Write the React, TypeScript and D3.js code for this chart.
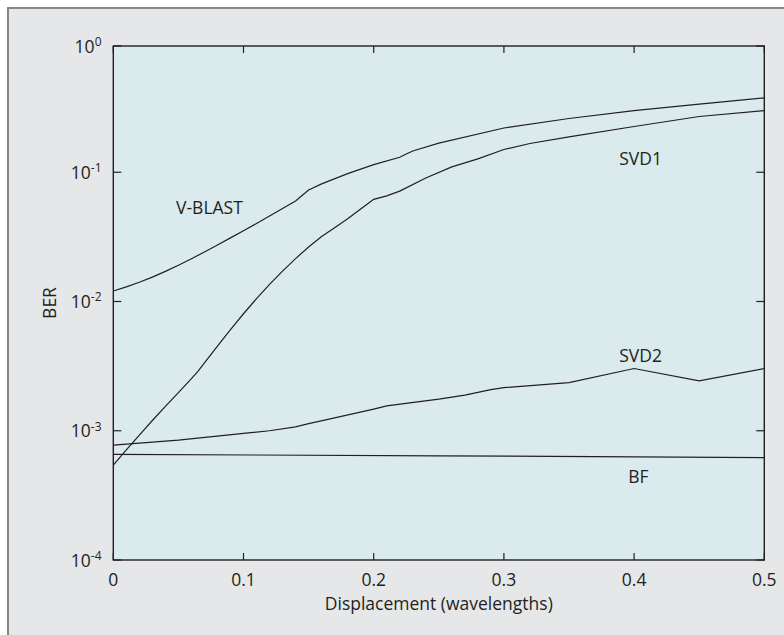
import React from "react";
import * as d3 from "d3";

const xVblast = [0, 0.01, 0.02, 0.03, 0.04, 0.05, 0.06, 0.07, 0.08, 0.09, 0.1, 0.11, 0.12, 0.13, 0.14, 0.145, 0.15, 0.16, 0.18, 0.2, 0.22, 0.225, 0.23, 0.25, 0.3, 0.35, 0.4, 0.45, 0.5];
const yVblast = [0.01205, 0.01297, 0.01409, 0.01545, 0.0171, 0.0191, 0.02143, 0.02415, 0.02735, 0.03105, 0.03532, 0.04018, 0.04581, 0.05236, 0.05998, 0.066, 0.0729, 0.0813, 0.0975, 0.1146, 0.1306, 0.1384, 0.146, 0.168, 0.22, 0.2606, 0.3, 0.3365, 0.3767];

const xSvd1 = [0, 0.01, 0.02, 0.03, 0.04, 0.05, 0.06, 0.065, 0.07, 0.08, 0.09, 0.1, 0.11, 0.12, 0.13, 0.14, 0.15, 0.16, 0.17, 0.18, 0.19, 0.2, 0.21, 0.22, 0.24, 0.26, 0.28, 0.3, 0.32, 0.35, 0.4, 0.45, 0.5];
const ySvd1 = [0.000542, 0.00071, 0.000925, 0.0012, 0.001545, 0.00197, 0.00253, 0.00288, 0.00335, 0.00452, 0.00605, 0.00804, 0.01052, 0.01355, 0.01718, 0.02148, 0.02642, 0.03184, 0.03715, 0.04365, 0.05188, 0.0617, 0.0656, 0.0714, 0.0903, 0.11, 0.1268, 0.15, 0.167, 0.188, 0.226, 0.27, 0.3];

const xSvd2 = [0, 0.05, 0.1, 0.12, 0.14, 0.15, 0.17, 0.2, 0.21, 0.25, 0.27, 0.29, 0.3, 0.35, 0.4, 0.45, 0.5];
const ySvd2 = [0.000774, 0.000845, 0.000953, 0.001, 0.00107, 0.001135, 0.001256, 0.00147, 0.001556, 0.001754, 0.001884, 0.00208, 0.002155, 0.00236, 0.00303, 0.00243, 0.00303];

const xBf = [0, 0.25, 0.5];
const yBf = [0.000656, 0.00064, 0.00062];

const xTicks = [0, 0.1, 0.2, 0.3, 0.4, 0.5];
const yTickExps = [0, -1, -2, -3, -4];

const seriesLabels = [
  { text: "V-BLAST", x: 0.0482, y: 0.0475 },
  { text: "SVD1", x: 0.3886, y: 0.1137 },
  { text: "SVD2", x: 0.3886, y: 0.00339 },
  { text: "BF", x: 0.3955, y: 0.000394 },
];

const W = 784;
const H = 635;
const left = 113.3;
const right = 764.3;
const top = 46;
const bottom = 560;

export default function App() {
  const x = d3.scaleLinear().domain([0, 0.5]).range([left, right]);
  const y = d3.scaleLog().domain([1e-4, 1]).range([bottom, 43]);
  const line = d3
    .line<[number, number]>()
    .x((d) => x(d[0]))
    .y((d) => y(d[1]));
  const mk = (xs: number[], ys: number[]) => xs.map((v, i) => [v, ys[i]] as [number, number]);
  const series = [mk(xVblast, yVblast), mk(xSvd1, ySvd1), mk(xSvd2, ySvd2), mk(xBf, yBf)];
  const font = "'Open Sans', 'Noto Sans', sans-serif";
  const ink = "#231f20";
  const fs = 17.5;
  return (
    <svg
      width={W}
      height={H}
      style={{ position: "absolute", left: 0, top: 0, display: "block" }}
      fontFamily={font}
    >
      <rect x={0} y={0} width={W} height={H} fill="#ffffff" />
      <rect x={8} y={8} width={W + 20} height={H + 20} fill="#e6e7e8" stroke="#878787" strokeWidth={2} />
      <rect x={left} y={top} width={right - left} height={bottom - top} fill="#dbeaed" />
      <defs>
        <clipPath id="plotclip">
          <rect x={left} y={top} width={right - left} height={bottom - top} />
        </clipPath>
      </defs>
      <g clipPath="url(#plotclip)">
        {series.map((s, i) => (
          <path key={i} d={line(s) || ""} fill="none" stroke={ink} strokeWidth={1.2} />
        ))}
      </g>
      {xTicks.map((t) => (
        <g key={"xt" + t}>
          <line x1={x(t)} x2={x(t)} y1={bottom} y2={bottom - 7} stroke={ink} strokeWidth={1.2} />
          <line x1={x(t)} x2={x(t)} y1={top} y2={top + 7} stroke={ink} strokeWidth={1.2} />
          <text x={x(t)} y={585.5} textAnchor="middle" fontSize={fs} fill={ink}>
            {String(t)}
          </text>
        </g>
      ))}
      {yTickExps.map((e) => {
        const yy = e === 0 ? top : y(Math.pow(10, e));
        return (
          <g key={"yt" + e}>
            <line x1={left} x2={left + 8} y1={yy} y2={yy} stroke={ink} strokeWidth={1.2} />
            <line x1={right} x2={right - 8} y1={yy} y2={yy} stroke={ink} strokeWidth={1.2} />
            <text x={101.5} y={yy + 6.6} textAnchor="end" fontSize={fs} fill={ink}>
              <tspan>10</tspan>
              <tspan dy={-6.8} fontSize={12}>
                {String(e)}
              </tspan>
            </text>
          </g>
        );
      })}
      <rect x={left} y={top} width={right - left} height={bottom - top} fill="none" stroke={ink} strokeWidth={1.4} />
      <text x={(left + right) / 2} y={610} textAnchor="middle" fontSize={fs} fill={ink}>
        Displacement (wavelengths)
      </text>
      <text
        transform={`translate(55.5, ${(top + bottom) / 2}) rotate(-90)`}
        textAnchor="middle"
        fontSize={fs}
        fill={ink}
      >
        BER
      </text>
      {seriesLabels.map((l) => (
        <text key={l.text} x={x(l.x)} y={y(l.y)} fontSize={fs} fill={ink}>
          {l.text}
        </text>
      ))}
    </svg>
  );
}
